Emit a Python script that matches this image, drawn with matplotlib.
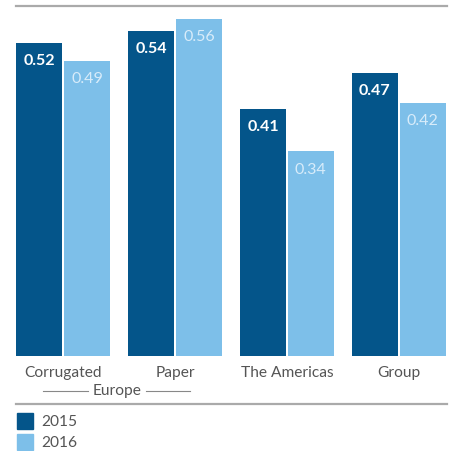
import matplotlib.pyplot as plt
from matplotlib.patches import Rectangle
from matplotlib.lines import Line2D
import numpy as np

# data
categories = ['Corrugated', 'Paper', 'The Americas', 'Group']
values_2015 = [0.52, 0.54, 0.41, 0.47]
values_2016 = [0.49, 0.56, 0.34, 0.42]
series_names = ['2015', '2016']
group_label = 'Europe'

DARK = '#04558a'
LIGHT = '#7dbfe9'
GREY_TEXT = '#555555'
LINE_GREY = '#aaaaaa'

plt.rcParams['font.family'] = ['Lato', 'DejaVu Sans']

W, H = 454, 452
fig = plt.figure(figsize=(W / 100, H / 100), dpi=100)

def fx(px):
    return px / W

def fy(py):
    return 1 - py / H

ax = fig.add_axes([fx(16), fy(357), fx(447) - fx(16), fy(7) - fy(357)])
x = np.arange(len(categories))
width = 0.41
off = 0.214
b1 = ax.bar(x - off, values_2015, width, color=DARK)
b2 = ax.bar(x + off, values_2016, width, color=LIGHT)
ax.set_xlim(-0.42, 3.43)
ax.set_ylim(0, 0.581)
ax.axis('off')

for rect, v in zip(b1, values_2015):
    ax.text(rect.get_x() + rect.get_width() / 2, v - 0.029, f'{v:.2f}',
            ha='center', va='center', color='white', fontsize=11.5,
            fontweight='bold')
for rect, v in zip(b2, values_2016):
    ax.text(rect.get_x() + rect.get_width() / 2, v - 0.029, f'{v:.2f}',
            ha='center', va='center', color='#d8ecfa', fontsize=11.5)

# top rule
fig.add_artist(Line2D([fx(16), fx(447)], [fy(7), fy(7)], color=LINE_GREY, lw=1.6))
# bottom rule
fig.add_artist(Line2D([fx(16), fx(447)], [fy(405), fy(405)], color=LINE_GREY, lw=1.6))

# category labels
for xi, cat in zip(x, categories):
    xf = fx(16) + (xi + 0.42) / 3.85 * (fx(447) - fx(16))
    fig.text(xf, fy(373), cat, ha='center', va='center', color=GREY_TEXT, fontsize=11.2)

# Europe bracket
fig.text(fx(117), fy(391), group_label, ha='center', va='center', color=GREY_TEXT, fontsize=11.2)
fig.add_artist(Line2D([fx(43), fx(88)], [fy(392), fy(392)], color='#888888', lw=0.8))
fig.add_artist(Line2D([fx(146), fx(190)], [fy(392), fy(392)], color='#888888', lw=0.8))

# legend
for i, (name, col) in enumerate(zip(series_names, [DARK, LIGHT])):
    top = 414 + i * 21
    fig.add_artist(Rectangle((fx(17), fy(top + 16)), fx(16), 16 / H, color=col,
                             transform=fig.transFigure))
    fig.text(fx(41), fy(top + 8), name, ha='left', va='center', color=GREY_TEXT, fontsize=11.2)

fig.savefig('out.png', dpi=100)
